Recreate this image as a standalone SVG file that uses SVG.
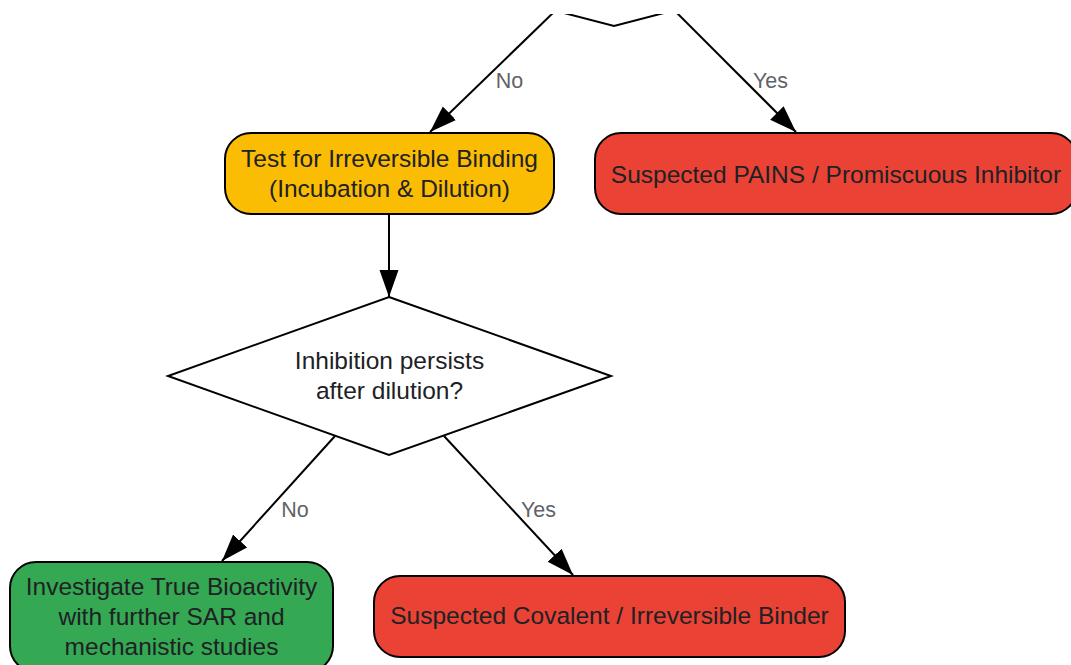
<svg xmlns="http://www.w3.org/2000/svg" width="1071" height="665" viewBox="0 0 1071 665">
<style>
.node{stroke:#000;stroke-width:2}
.t{font-family:"Liberation Sans",Arial,sans-serif;font-size:24.5px;fill:#202124;text-anchor:middle}
.lbl{font-family:"Liberation Sans",Arial,sans-serif;font-size:21.5px;fill:#5f6368;text-anchor:middle}
.edge{stroke:#000;stroke-width:2;fill:none;marker-end:url(#ah)}
</style>
<defs>
<marker id="ah" markerUnits="userSpaceOnUse" markerWidth="28" markerHeight="20" refX="27" refY="9.5" orient="auto">
<path d="M0,0 L27,9.5 L0,19 z" fill="#000"/>
</marker>
<clipPath id="top"><rect x="0" y="14" width="1071" height="651"/></clipPath>
</defs>
<rect width="1071" height="665" fill="#fff"/>
<g id="decision1" clip-path="url(#top)">
<polygon class="node" fill="#fff" points="614,-126 906,-50 614,26 322,-50"/>
</g>
<g id="connectors">
<g clip-path="url(#top)">
<line class="edge" x1="555" y1="11" x2="430" y2="132"/>
<line class="edge" x1="674" y1="10" x2="796" y2="132"/>
</g>
<line class="edge" x1="389" y1="214" x2="389" y2="297"/>
<line class="edge" x1="335" y1="436" x2="222" y2="561"/>
<line class="edge" x1="444" y1="436" x2="573" y2="575"/>
<text class="lbl" x="509.5" y="88">No</text>
<text class="lbl" x="770.5" y="88">Yes</text>
<text class="lbl" x="295" y="517">No</text>
<text class="lbl" x="538.5" y="517">Yes</text>
</g>
<g id="test_irreversible">
<rect class="node" x="225" y="133" width="329" height="81" rx="26" fill="#fbbc04"/>
<text class="t" x="389.5" y="167">Test for Irreversible Binding</text>
<text class="t" x="389.5" y="197">(Incubation &amp; Dilution)</text>
</g>
<g id="pains">
<rect class="node" x="595" y="133" width="482" height="81" rx="26" fill="#ea4335"/>
<text class="t" x="836" y="183">Suspected PAINS / Promiscuous Inhibitor</text>
</g>
<g id="decision2">
<polygon class="node" fill="#fff" points="389,297 611,376 389,455 168,376"/>
<text class="t" x="389.5" y="369">Inhibition persists</text>
<text class="t" x="389.5" y="399">after dilution?</text>
</g>
<g id="true_bioactivity">
<rect class="node" x="10" y="562" width="323" height="110" rx="26" fill="#34a853"/>
<text class="t" x="171.5" y="595">Investigate True Bioactivity</text>
<text class="t" x="171.5" y="625">with further SAR and</text>
<text class="t" x="171.5" y="655">mechanistic studies</text>
</g>
<g id="covalent">
<rect class="node" x="374" y="576" width="471" height="81" rx="26" fill="#ea4335"/>
<text class="t" x="609.5" y="624">Suspected Covalent / Irreversible Binder</text>
</g>
</svg>
